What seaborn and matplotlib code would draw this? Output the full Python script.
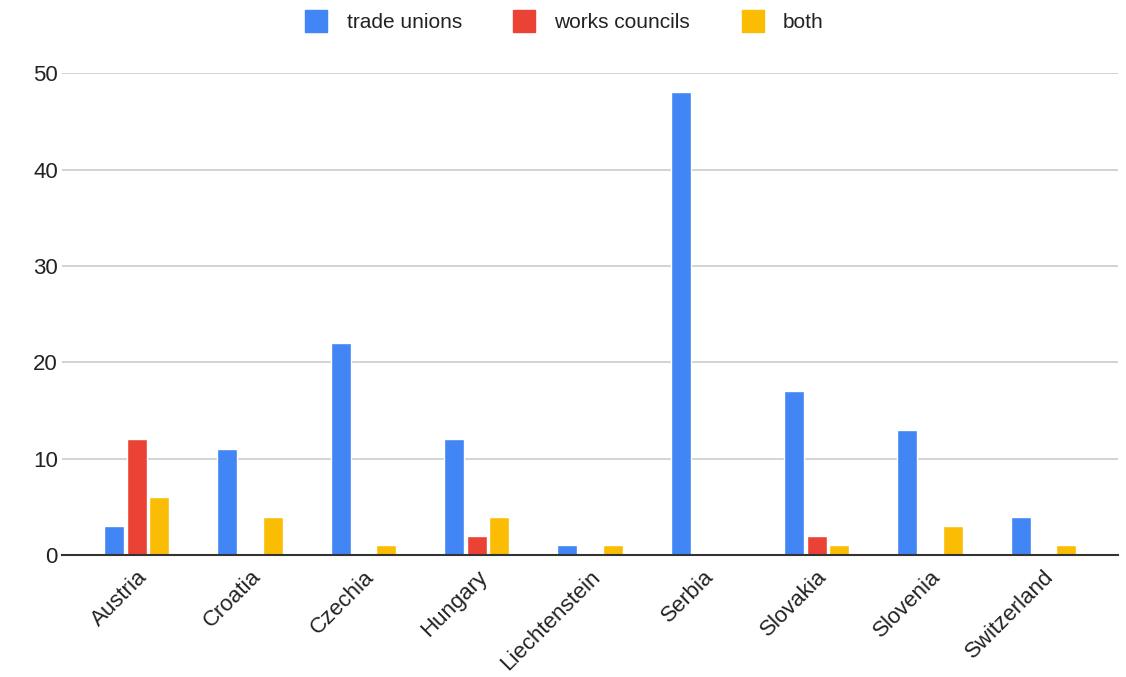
import matplotlib
matplotlib.use("Agg")
import matplotlib.pyplot as plt
from matplotlib.lines import Line2D
import pandas as pd
import seaborn as sns

countries = ["Austria", "Croatia", "Czechia", "Hungary", "Liechtenstein",
             "Serbia", "Slovakia", "Slovenia", "Switzerland"]
trade_unions = [3, 11, 22, 12, 1, 48, 17, 13, 4]
works_councils = [12, 0, 0, 2, 0, 0, 2, 0, 0]
both = [6, 4, 1, 4, 1, 0, 1, 3, 1]
series_names = ["trade unions", "works councils", "both"]
colors = ["#4285F4", "#EA4335", "#FBBC04"]

df = pd.DataFrame({
    "country": countries * 3,
    "series": [series_names[0]] * len(countries)
              + [series_names[1]] * len(countries)
              + [series_names[2]] * len(countries),
    "value": trade_unions + works_councils + both,
})

sns.set_theme(style="white")
plt.rcParams["font.family"] = ["Liberation Sans", "DejaVu Sans"]

fig = plt.figure(figsize=(11.26, 6.77), dpi=100)
ax = fig.add_axes([0.055, 0.180, 0.938, 0.712])

sns.barplot(data=df, x="country", y="value", hue="series",
            hue_order=series_names, palette=colors, order=countries,
            width=0.6, gap=0.12, saturation=1, legend=False, ax=ax,
            errorbar=None)

ax.set_xlim(-0.66, 8.66)
ax.set_ylim(0, 50)
ax.set_yticks([0, 10, 20, 30, 40, 50])
ax.yaxis.grid(True, color="#cccccc", linewidth=1.2)
ax.set_axisbelow(True)
for s in ["top", "right", "left"]:
    ax.spines[s].set_visible(False)
ax.spines["bottom"].set_color("#333333")
ax.spines["bottom"].set_linewidth(1.5)
ax.set_xlabel("")
ax.set_ylabel("")
ax.tick_params(axis="both", length=0, labelsize=16, labelcolor="#222222")
ax.tick_params(axis="y", pad=3)
ax.tick_params(axis="x", pad=8)
for lbl in ax.get_xticklabels():
    lbl.set_rotation(45)
    lbl.set_ha("right")
    lbl.set_rotation_mode("anchor")

handles = [Line2D([0], [0], marker="s", linestyle="", markersize=16,
                  markerfacecolor=c, markeredgecolor=c) for c in colors]
fig.legend(handles, series_names, loc="upper center", ncol=3,
           bbox_to_anchor=(0.497, 1.008), frameon=False, fontsize=15,
           handletextpad=0.45, columnspacing=2.0, labelcolor="#222222")

fig.savefig("out.png", dpi=100, facecolor="white")
